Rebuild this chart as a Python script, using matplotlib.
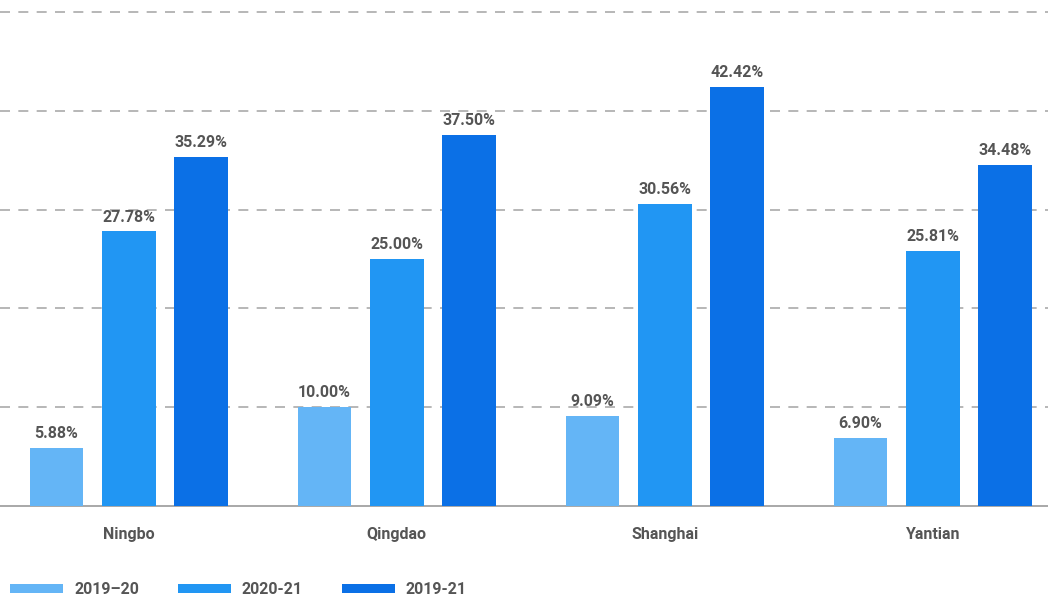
import matplotlib.pyplot as plt
import numpy as np

plt.rcParams['font.family'] = ['Roboto', 'DejaVu Sans']

ports = ['Ningbo', 'Qingdao', 'Shanghai', 'Yantian']
series = ['2019\u201320', '2020-21', '2019-21']
v_1920 = [5.88, 10.00, 9.09, 6.90]
v_2021 = [27.78, 25.00, 30.56, 25.81]
v_1921 = [35.29, 37.50, 42.42, 34.48]
colors = ['#64b5f6', '#2196f3', '#0b70e6']
txt = '#555555'

fig = plt.figure(figsize=(10.48, 5.98), dpi=100)
# baseline at 506 px, y=50 at 12 px -> 51 units span ~504 px
ax = fig.add_axes([0, 92 / 598, 1, 504 / 598])

x = np.arange(len(ports))
step = 0.27
width = 0.2
for i, (vals, lab) in enumerate(zip([v_1920, v_2021, v_1921], series)):
    pos = x + (i - 1) * step
    ax.bar(pos, vals, width=width, color=colors[i], label=lab, zorder=3)
    for px, v in zip(pos, vals):
        ax.text(px, v + 0.7, '%.2f%%' % v, ha='center', va='bottom',
                fontsize=11.5, fontweight='bold', color=txt, zorder=4)

ax.set_xlim(-0.481, 3.43)
ax.set_ylim(0, 51)
ax.set_yticks([10, 20, 30, 40, 50])
ax.yaxis.grid(True, linestyle=(0, (6, 5)), color='#aaaaaa', linewidth=1.2, zorder=0)
ax.tick_params(axis='y', left=False, labelleft=False)
ax.set_xticks(x)
ax.set_xticklabels(ports, fontsize=11.5, fontweight='bold', color=txt)
ax.tick_params(axis='x', length=0, pad=15)
for s in ['top', 'left', 'right']:
    ax.spines[s].set_visible(False)
ax.spines['bottom'].set_color('#999999')
ax.spines['bottom'].set_linewidth(1.2)

leg = fig.legend(loc='lower left', bbox_to_anchor=(-0.004, -0.022), ncol=3, frameon=False,
                 handlelength=3.3, handleheight=0.5, handletextpad=0.7, columnspacing=2.45,
                 prop={'size': 11.5, 'weight': 'bold'})
for t in leg.get_texts():
    t.set_color(txt)

fig.savefig('out.png', dpi=100)
